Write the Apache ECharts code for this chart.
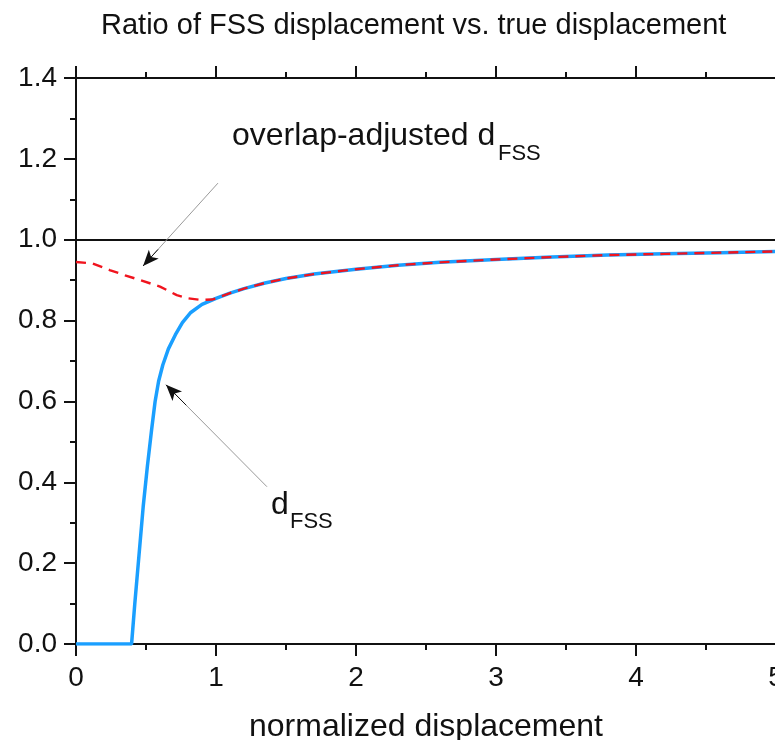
<!DOCTYPE html>
<html>
<head>
<meta charset="utf-8">
<script src="https://cdn.jsdelivr.net/npm/echarts@6/dist/echarts.min.js"></script>
<style>html,body{margin:0;padding:0;background:#fff;}#c{width:775px;height:740px;}</style>
</head>
<body>
<div id="c"></div>
<script>
const titleText = 'Ratio of FSS displacement vs. true displacement';
const xName = 'normalized displacement';
const xTicks = [0, 1, 2, 3, 4, 5];
const yTicks = [0.0, 0.2, 0.4, 0.6, 0.8, 1.0, 1.2, 1.4];

const xBlue = [0, 0.397, 0.42, 0.45, 0.48, 0.51, 0.54, 0.565, 0.59, 0.62, 0.66, 0.71, 0.76, 0.82, 0.9, 1.0, 1.1, 1.2, 1.35, 1.5, 1.7, 2.0, 2.3, 2.6, 3.0, 3.4, 3.8, 4.2, 4.6, 5.0];
const yBlue = [0, 0, 0.1, 0.22, 0.34, 0.44, 0.53, 0.6, 0.65, 0.69, 0.73, 0.765, 0.795, 0.82, 0.84, 0.855, 0.868, 0.879, 0.893, 0.904, 0.915, 0.927, 0.937, 0.944, 0.951, 0.957, 0.962, 0.965, 0.968, 0.971];

const xRed = [0, 0.12, 0.24, 0.35, 0.46, 0.6, 0.72, 0.8, 0.89, 0.97, 1.0, 1.1, 1.2, 1.35, 1.5, 1.7, 2.0, 2.3, 2.6, 3.0, 3.4, 3.8, 4.2, 4.6, 5.0];
const yRed = [0.945, 0.941, 0.925, 0.912, 0.900, 0.884, 0.863, 0.855, 0.851, 0.852, 0.855, 0.868, 0.879, 0.893, 0.904, 0.915, 0.927, 0.937, 0.944, 0.951, 0.957, 0.962, 0.965, 0.968, 0.971];

const refLine = 1.0;
// annotation arrows [from, to] in data units
const arrowAdj = [[1.014, 1.140], [0.479, 0.935]];
const arrowFss = [[1.364, 0.389], [0.643, 0.641]];

const blueData = xBlue.map((x, i) => [x, yBlue[i]]);
const redData = xRed.map((x, i) => [x, yRed[i]]);

function headSeg(a) {
  const f = 0.8;
  const s = [a[0][0] + (a[1][0] - a[0][0]) * f, a[0][1] + (a[1][1] - a[0][1]) * f];
  return [{coord: s, symbol: 'none', lineStyle: {color: '#111', width: 1, type: 'solid'}}, {coord: a[1], symbol: 'arrow'}];
}

const font = 'Liberation Sans, Arial, sans-serif';
const axisCommon = {
  axisLine: {show: true, onZero: false, lineStyle: {color: '#111', width: 2}},
  axisTick: {show: true, inside: false, length: 12, lineStyle: {color: '#111', width: 2}},
  minorTick: {show: true, splitNumber: 2, length: 6, lineStyle: {color: '#111', width: 2}},
  splitLine: {show: false}
};

const chart = echarts.init(document.getElementById('c'));
chart.setOption({
  animation: false,
  backgroundColor: '#fff',
  title: {text: titleText, left: 96, top: 6, textStyle: {fontFamily: font, fontSize: 29, fontWeight: 'normal', color: '#111'}},
  grid: {left: 76, right: -1, top: 78, bottom: 96, containLabel: false, outerBoundsMode: 'none'},
  xAxis: [
    Object.assign({type: 'value', min: 0, max: 5, interval: 1, position: 'bottom', name: xName, nameLocation: 'middle', nameGap: 67,
      nameTextStyle: {fontFamily: font, fontSize: 32, color: '#111'},
      axisLabel: {fontFamily: font, fontSize: 28, color: '#111', margin: 20, formatter: v => String(v)}}, axisCommon),
    Object.assign({type: 'value', min: 0, max: 5, interval: 1, position: 'top', axisLabel: {show: false}}, axisCommon)
  ],
  yAxis: [
    Object.assign({type: 'value', min: 0, max: 1.4, interval: 0.2, position: 'left',
      axisLabel: {fontFamily: font, fontSize: 28, color: '#111', margin: 19, formatter: v => v.toFixed(1)}}, axisCommon),
    Object.assign({type: 'value', min: 0, max: 1.4, interval: 0.2, position: 'right', axisLabel: {show: false}}, axisCommon)
  ],
  series: [
    {
      type: 'line', data: blueData, showSymbol: false, symbol: 'none',
      lineStyle: {color: '#1a9fff', width: 3.5}, z: 3,
      markLine: {
        silent: true, symbol: ['none', 'none'], label: {show: false}, animation: false,
        lineStyle: {color: '#111', width: 2, type: 'solid'},
        data: [{yAxis: refLine}]
      }
    },
    {
      type: 'line', data: redData, showSymbol: false, symbol: 'none',
      lineStyle: {color: '#f0141e', width: 2.4, type: [10, 7]}, z: 4,
      markLine: {
        silent: true, label: {show: false}, animation: false, symbolSize: [10, 16],
        data: [
          [{coord: arrowAdj[0], symbol: 'none', lineStyle: {color: '#9a9a9a', width: 1, type: 'solid'}}, {coord: arrowAdj[1], symbol: 'none'}],
          [{coord: arrowFss[0], symbol: 'none', lineStyle: {color: '#9a9a9a', width: 1, type: 'solid'}}, {coord: arrowFss[1], symbol: 'none'}],
          headSeg(arrowAdj),
          headSeg(arrowFss)
        ]
      }
    }
  ],
  graphic: [
    {type: 'text', left: 232, top: 120, style: {text: 'overlap-adjusted d', font: '32px ' + font, fill: '#111'}},
    {type: 'text', left: 498, top: 143, style: {text: 'FSS', font: '22px ' + font, fill: '#111'}},
    {type: 'text', left: 271, top: 489, style: {text: 'd', font: '32px ' + font, fill: '#111'}},
    {type: 'text', left: 290, top: 511, style: {text: 'FSS', font: '22px ' + font, fill: '#111'}}
  ]
});
</script>
</body>
</html>
